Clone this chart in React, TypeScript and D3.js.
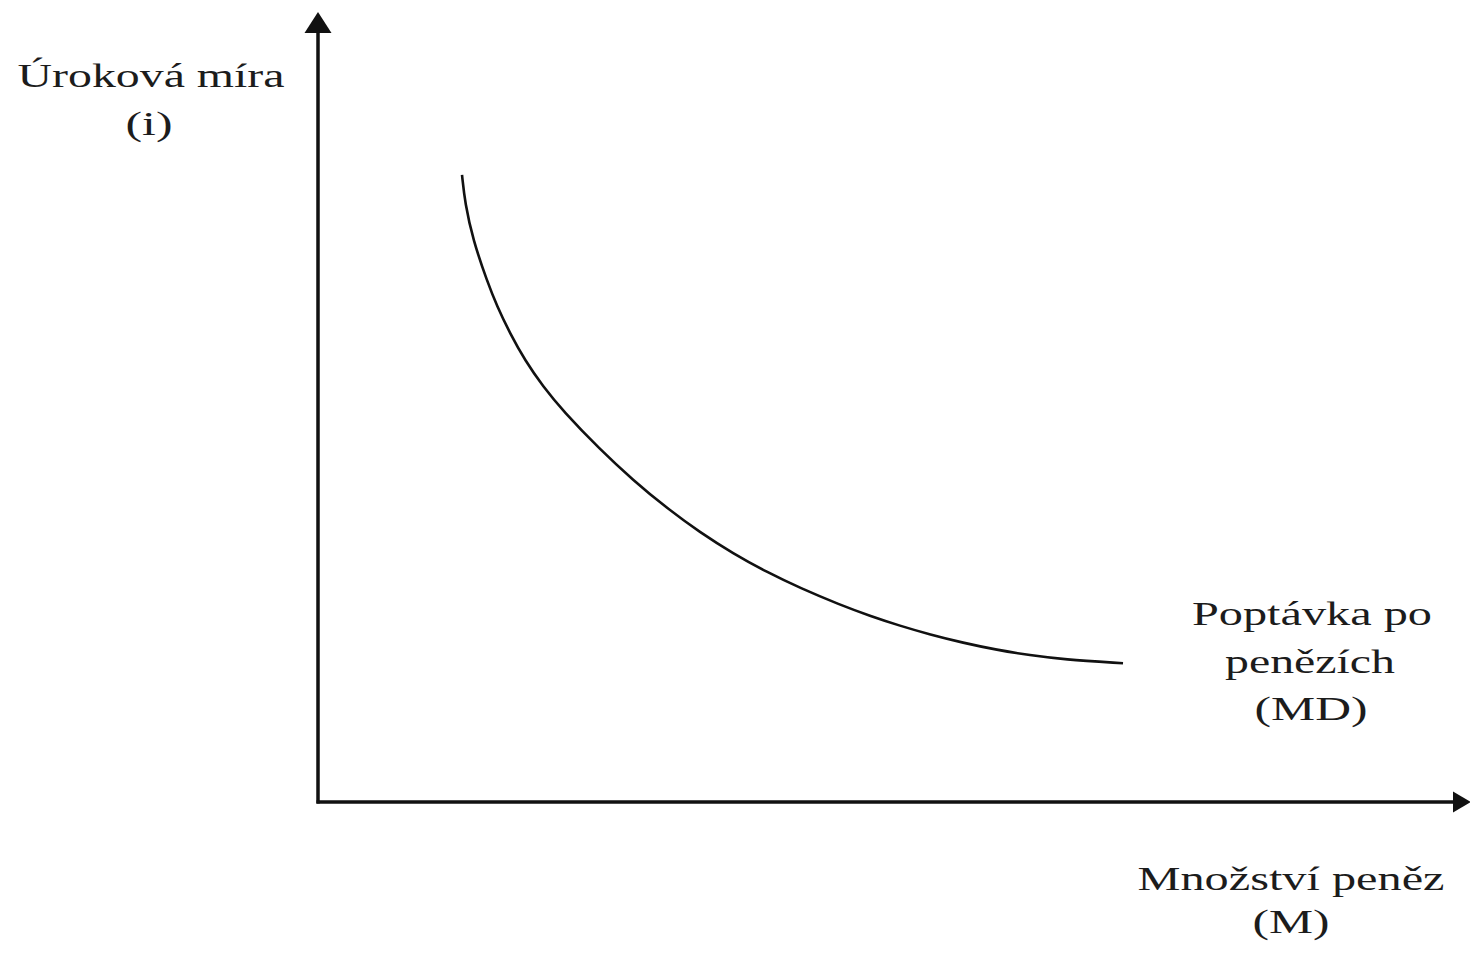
import React from "react";
import * as d3 from "d3";

// Money demand curve (MD) in abstract units
const mdQuantity = [1.26, 1.286, 1.356, 1.479, 1.566, 1.68, 1.811, 1.969, 2.144, 2.467, 2.756, 3.053, 3.342, 3.631, 3.928, 4.217, 4.567, 4.829, 5.092, 5.354, 5.643, 5.941, 6.229, 6.518, 7.043];
const mdRate = [7.937, 7.582, 7.116, 6.594, 6.277, 5.932, 5.59, 5.259, 4.95, 4.463, 4.075, 3.718, 3.413, 3.146, 2.909, 2.709, 2.496, 2.356, 2.23, 2.12, 2.015, 1.925, 1.857, 1.805, 1.756];

const yLabelLines = ["Úroková míra", "(i)"];
const curveLabelLines = ["Poptávka po", "penězích", "(MD)"];
const xLabelLines = ["Množství peněz", "(M)"];

const W = 1470;
const H = 956;

export default function App() {
  const x = d3.scaleLinear().domain([0, 10]).range([318, 1461]);
  const y = d3.scaleLinear().domain([0, 10]).range([802, 12]);

  const pts: [number, number][] = mdQuantity.map((q, i) => [q, mdRate[i]]);
  const line = d3
    .line<[number, number]>()
    .x((d) => x(d[0]))
    .y((d) => y(d[1]))
    .curve(d3.curveBasis);

  const x0 = x(0);
  const y0 = y(0);
  const yTop = y(10);
  const xEnd = x(10) + 10;

  const font = "'Liberation Serif', 'Times New Roman', serif";
  const textFill = "#1c1c1c";

  const yLab = [
    { t: yLabelLines[0], cx: 151, by: 87, w: 267 },
    { t: yLabelLines[1], cx: 149, by: 135, w: 47 },
  ];
  const cLab = [
    { t: curveLabelLines[0], cx: 1312, by: 625, w: 240 },
    { t: curveLabelLines[1], cx: 1310, by: 673, w: 170 },
    { t: curveLabelLines[2], cx: 1311, by: 720, w: 113 },
  ];
  const xLab = [
    { t: xLabelLines[0], cx: 1291, by: 890, w: 307 },
    { t: xLabelLines[1], cx: 1291, by: 933, w: 77 },
  ];

  const allLabels = [...yLab, ...cLab, ...xLab];

  return (
    <svg
      width={W}
      height={H}
      style={{ position: "absolute", left: 0, top: 0, background: "#fff" }}
    >
      <rect x={0} y={0} width={W} height={H} fill="#fff" />
      {/* axes */}
      <line x1={x0} y1={y0 + 1.5} x2={x0} y2={yTop + 18} stroke="#111" strokeWidth={3.5} />
      <line x1={x0 - 1.5} y1={y0} x2={xEnd - 14} y2={y0} stroke="#111" strokeWidth={3.5} />
      <path
        d={`M${x0},${yTop} L${x0 - 13.5},${yTop + 21} L${x0 + 13.5},${yTop + 21} Z`}
        fill="#111"
      />
      <path
        d={`M${xEnd},${y0} L${xEnd - 18},${y0 - 10.5} L${xEnd - 18},${y0 + 10.5} Z`}
        fill="#111"
      />
      {/* MD curve */}
      <path d={line(pts) || ""} fill="none" stroke="#111" strokeWidth={2.6} />
      {/* labels */}
      {allLabels.map((l, i) => (
        <text
          key={i}
          x={l.cx - l.w / 2}
          y={l.by}
          textLength={l.w}
          lengthAdjust="spacingAndGlyphs"
          fontFamily={font}
          fontSize={34}
          fill={textFill}
        >
          {l.t}
        </text>
      ))}
    </svg>
  );
}
